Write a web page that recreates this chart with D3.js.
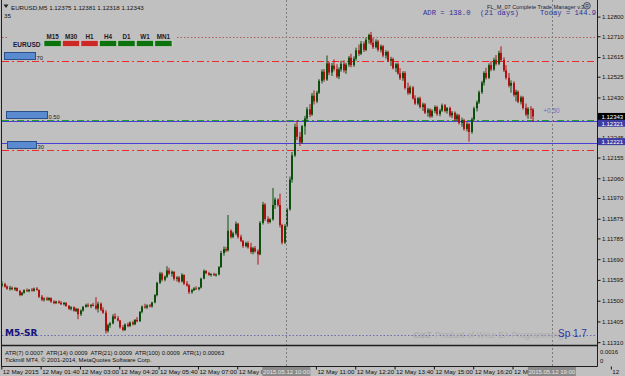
<!DOCTYPE html>
<html><head><meta charset="utf-8">
<script src="https://cdn.jsdelivr.net/npm/d3@7"></script>
<style>body{margin:0;background:#c0c0c0;overflow:hidden}svg{display:block}</style>
</head><body><svg id="c" width="625" height="376"></svg>
<script>
// ---------------- DATA ----------------
const symbolName = "EURUSD,M5";
const headerOHLC = ["1.12375","1.12381","1.12318","1.12343"];
const headerSub = "35";
// M5 candles [open, high, low, close], 12 May 2015 from 00:20
const ohlc = [
[1.11570,1.11588,1.11562,1.11576],[1.11576,1.11582,1.11560,1.11564],[1.11564,1.11570,1.11550,1.11555],[1.11555,1.11568,1.11546,1.11559],
[1.11559,1.11565,1.11548,1.11552],[1.11552,1.11563,1.11545,1.11558],[1.11558,1.11561,1.11542,1.11545],[1.11545,1.11549,1.11520,1.11526],
[1.11526,1.11540,1.11522,1.11536],[1.11536,1.11552,1.11532,1.11548],[1.11548,1.11556,1.11540,1.11544],[1.11544,1.11553,1.11538,1.11550],
[1.11550,1.11558,1.11542,1.11546],[1.11546,1.11560,1.11541,1.11555],[1.11555,1.11562,1.11546,1.11549],[1.11549,1.11551,1.11512,1.11518],
[1.11518,1.11526,1.11498,1.11505],[1.11505,1.11515,1.11496,1.11510],[1.11510,1.11518,1.11500,1.11504],[1.11504,1.11516,1.11499,1.11512],
[1.11512,1.11515,1.11490,1.11496],[1.11496,1.11502,1.11484,1.11489],[1.11489,1.11500,1.11485,1.11496],[1.11496,1.11501,1.11486,1.11490],
[1.11490,1.11498,1.11480,1.11484],[1.11484,1.11494,1.11478,1.11490],[1.11490,1.11493,1.11472,1.11476],[1.11476,1.11480,1.11458,1.11463],
[1.11463,1.11475,1.11455,1.11470],[1.11470,1.11474,1.11450,1.11454],[1.11454,1.11468,1.11448,1.11462],[1.11462,1.11466,1.11415,1.11438],
[1.11438,1.11460,1.11430,1.11455],[1.11455,1.11475,1.11450,1.11472],[1.11472,1.11486,1.11468,1.11480],[1.11480,1.11488,1.11470,1.11475],
[1.11475,1.11484,1.11466,1.11481],[1.11481,1.11490,1.11474,1.11478],[1.11478,1.11516,1.11458,1.11464],[1.11464,1.11495,1.11446,1.11486],
[1.11486,1.11492,1.11452,1.11458],[1.11458,1.11470,1.11440,1.11445],[1.11445,1.11456,1.11350,1.11362],[1.11362,1.11395,1.11354,1.11388],
[1.11388,1.11402,1.11376,1.11396],[1.11396,1.11438,1.11392,1.11428],[1.11428,1.11442,1.11415,1.11419],[1.11419,1.11430,1.11405,1.11409],
[1.11409,1.11412,1.11372,1.11378],[1.11378,1.11388,1.11360,1.11366],[1.11366,1.11396,1.11362,1.11391],[1.11391,1.11400,1.11378,1.11384],
[1.11384,1.11405,1.11380,1.11400],[1.11400,1.11408,1.11387,1.11392],[1.11392,1.11416,1.11388,1.11412],[1.11412,1.11425,1.11401,1.11406],
[1.11406,1.11452,1.11403,1.11449],[1.11449,1.11478,1.11442,1.11473],[1.11473,1.11486,1.11464,1.11469],[1.11469,1.11483,1.11462,1.11478],
[1.11478,1.11485,1.11470,1.11474],[1.11474,1.11495,1.11468,1.11492],[1.11492,1.11530,1.11488,1.11526],[1.11526,1.11586,1.11520,1.11582],
[1.11582,1.11632,1.11576,1.11624],[1.11624,1.11630,1.11588,1.11596],[1.11596,1.11615,1.11589,1.11610],[1.11610,1.11658,1.11604,1.11638],
[1.11638,1.11650,1.11618,1.11624],[1.11624,1.11638,1.11610,1.11632],[1.11632,1.11635,1.11592,1.11600],[1.11600,1.11612,1.11588,1.11606],
[1.11606,1.11612,1.11582,1.11588],[1.11588,1.11626,1.11584,1.11618],[1.11618,1.11620,1.11572,1.11578],[1.11578,1.11590,1.11564,1.11570],
[1.11570,1.11576,1.11531,1.11539],[1.11539,1.11554,1.11532,1.11548],[1.11548,1.11562,1.11544,1.11556],[1.11556,1.11566,1.11550,1.11553],
[1.11553,1.11563,1.11547,1.11560],[1.11560,1.11605,1.11556,1.11601],[1.11601,1.11643,1.11598,1.11636],[1.11636,1.11640,1.11621,1.11626],
[1.11626,1.11632,1.11614,1.11619],[1.11619,1.11626,1.11610,1.11622],[1.11622,1.11628,1.11613,1.11617],[1.11617,1.11625,1.11610,1.11620],
[1.11620,1.11658,1.11616,1.11654],[1.11654,1.11728,1.11650,1.11718],[1.11718,1.11748,1.11706,1.11736],[1.11736,1.11746,1.11722,1.11730],
[1.11730,1.11892,1.11725,1.11820],[1.11820,1.11826,1.11784,1.11792],[1.11792,1.11816,1.11786,1.11808],[1.11808,1.11862,1.11800,1.11852],
[1.11852,1.11856,1.11784,1.11792],[1.11792,1.11802,1.11768,1.11774],[1.11774,1.11778,1.11742,1.11750],[1.11750,1.11770,1.11744,1.11764],
[1.11764,1.11772,1.11738,1.11744],[1.11744,1.11765,1.11715,1.11723],[1.11723,1.11746,1.11712,1.11740],[1.11740,1.11750,1.11720,1.11726],
[1.11726,1.11735,1.11665,1.11712],[1.11712,1.11864,1.11708,1.11856],[1.11856,1.11952,1.11848,1.11940],[1.11940,1.11946,1.11865,1.11874],
[1.11874,1.11886,1.11852,1.11860],[1.11860,1.11878,1.11854,1.11872],[1.11872,1.12016,1.11866,1.11938],[1.11938,1.11972,1.11920,1.11963],
[1.11963,1.11968,1.11930,1.11938],[1.11938,1.11990,1.11835,1.11846],[1.11846,1.11852,1.11758,1.11766],[1.11766,1.11850,1.11760,1.11842],
[1.11842,1.11925,1.11836,1.11918],[1.11918,1.12068,1.11912,1.12054],[1.12054,1.12180,1.12040,1.12165],[1.12165,1.12310,1.12158,1.12296],
[1.12296,1.12325,1.12235,1.12250],[1.12250,1.12272,1.12208,1.12224],[1.12224,1.12304,1.12218,1.12298],[1.12298,1.12346,1.12260,1.12334],
[1.12334,1.12386,1.12318,1.12376],[1.12376,1.12400,1.12340,1.12352],[1.12352,1.12450,1.12346,1.12438],[1.12438,1.12462,1.12398,1.12412],
[1.12412,1.12460,1.12404,1.12452],[1.12452,1.12514,1.12446,1.12506],[1.12506,1.12558,1.12494,1.12548],[1.12548,1.12560,1.12502,1.12512],
[1.12512,1.12622,1.12506,1.12586],[1.12586,1.12594,1.12532,1.12544],[1.12544,1.12588,1.12528,1.12576],[1.12576,1.12604,1.12550,1.12560],
[1.12560,1.12582,1.12518,1.12526],[1.12526,1.12568,1.12514,1.12558],[1.12558,1.12598,1.12548,1.12584],[1.12584,1.12600,1.12544,1.12554],
[1.12554,1.12588,1.12538,1.12580],[1.12580,1.12620,1.12570,1.12612],[1.12612,1.12630,1.12568,1.12578],[1.12578,1.12618,1.12570,1.12608],
[1.12608,1.12658,1.12598,1.12646],[1.12646,1.12672,1.12620,1.12630],[1.12630,1.12688,1.12624,1.12676],[1.12676,1.12686,1.12638,1.12648],
[1.12648,1.12704,1.12642,1.12694],[1.12694,1.12722,1.12676,1.12716],[1.12716,1.12730,1.12670,1.12680],[1.12680,1.12702,1.12652,1.12660],
[1.12660,1.12696,1.12654,1.12686],[1.12686,1.12694,1.12640,1.12648],[1.12648,1.12672,1.12636,1.12664],[1.12664,1.12670,1.12614,1.12622],
[1.12622,1.12646,1.12608,1.12638],[1.12638,1.12644,1.12592,1.12598],[1.12598,1.12616,1.12574,1.12606],[1.12606,1.12612,1.12558,1.12564],
[1.12564,1.12588,1.12546,1.12582],[1.12582,1.12590,1.12534,1.12540],[1.12540,1.12564,1.12510,1.12518],[1.12518,1.12550,1.12506,1.12542],
[1.12542,1.12550,1.12466,1.12474],[1.12474,1.12498,1.12442,1.12450],[1.12450,1.12484,1.12444,1.12476],[1.12476,1.12482,1.12420,1.12426],
[1.12426,1.12440,1.12396,1.12402],[1.12402,1.12432,1.12394,1.12426],[1.12426,1.12434,1.12380,1.12386],[1.12386,1.12406,1.12368,1.12398],
[1.12398,1.12404,1.12354,1.12360],[1.12360,1.12382,1.12342,1.12374],[1.12374,1.12380,1.12336,1.12344],[1.12344,1.12376,1.12338,1.12368],
[1.12368,1.12394,1.12358,1.12386],[1.12386,1.12392,1.12346,1.12354],[1.12354,1.12378,1.12344,1.12370],[1.12370,1.12402,1.12364,1.12394],
[1.12394,1.12400,1.12362,1.12368],[1.12368,1.12386,1.12356,1.12382],[1.12382,1.12388,1.12340,1.12348],[1.12348,1.12368,1.12336,1.12360],
[1.12360,1.12366,1.12322,1.12330],[1.12330,1.12356,1.12324,1.12348],[1.12348,1.12354,1.12306,1.12314],[1.12314,1.12338,1.12296,1.12326],
[1.12326,1.12332,1.12278,1.12286],[1.12286,1.12318,1.12274,1.12308],[1.12308,1.12314,1.12228,1.12272],[1.12272,1.12338,1.12264,1.12330],
[1.12330,1.12388,1.12324,1.12380],[1.12380,1.12416,1.12366,1.12408],[1.12408,1.12462,1.12400,1.12454],[1.12454,1.12506,1.12446,1.12498],
[1.12498,1.12550,1.12484,1.12542],[1.12542,1.12566,1.12512,1.12520],[1.12520,1.12586,1.12514,1.12578],[1.12578,1.12596,1.12550,1.12558],
[1.12558,1.12612,1.12552,1.12602],[1.12602,1.12624,1.12576,1.12584],[1.12584,1.12644,1.12578,1.12634],[1.12634,1.12664,1.12594,1.12602],
[1.12602,1.12614,1.12546,1.12554],[1.12554,1.12578,1.12512,1.12520],[1.12520,1.12542,1.12476,1.12484],[1.12484,1.12508,1.12452,1.12496],
[1.12496,1.12504,1.12434,1.12442],[1.12442,1.12466,1.12412,1.12456],[1.12456,1.12462,1.12404,1.12410],[1.12410,1.12438,1.12398,1.12430],
[1.12430,1.12436,1.12374,1.12382],[1.12382,1.12402,1.12344,1.12352],[1.12352,1.12386,1.12332,1.12378],[1.12378,1.12390,1.12332,1.12374],
[1.12375,1.12381,1.12318,1.12343]
];
const priceTicks = [1.12800,1.12710,1.12615,1.12525,1.12430,1.12245,1.12155,1.12060,1.11970,1.11875,1.11785,1.11690,1.11595,1.11500,1.11405,1.11310];
const timeTickBars = [0,16,32,48,64,80,96,128,144,160,176,192,208,248];
const timeTickText = ["12 May 2015","12 May 01:40","12 May 03:00","12 May 04:20","12 May 05:40","12 May 07:00","12 May 08:20","12 May 11:00","12 May 12:20","12 May 13:40","12 May 15:00","12 May 16:20","12 May 17:40","12"];
const markerBars = [116,224];
const markerText = ["2015.05.12 10:00","2015.05.12 19:00"];
const srHigh = 1.12708, srLow = 1.11341;
const zoneLevels = [1.12598,1.12329,1.12189];
const zoneLabels = ["70","0.50","30"];
const tradeLines = [1.12321,1.12221];
const closePrice = 1.12343;
const tfNames = ["M15","M30","H1","H4","D1","W1","MN1"];
const tfTrend = ["up","down","down","up","up","up","up"];
const adrText = ["ADR = 138.0","(21 days)","Today = 144.9"];
const atrText = "ATR(7) 0.0007  ATR(14) 0.0009  ATR(21) 0.0009  ATR(100) 0.0009  ATR(1) 0.00063";
const brokerText = "Tickmill MT4, \u00a9 2001-2014, MetaQuotes Software Corp.";
const subTicks = ["0.0016","0"];
const spreadText = "Sp 1.7";

// ---------------- DRAW ----------------
const W=625,H=376;
const FONT="'Liberation Sans', Arial, sans-serif";
const svg=d3.select("#c");
const x=d3.scaleLinear().domain([0,242]).range([1.3,596.1]);
const y=d3.scaleLinear().domain([1.11310,1.12800]).range([342.2,16.6]);

svg.append("rect").attr("width",W).attr("height",H).attr("fill","#c0c0c0");
svg.append("clipPath").attr("id","plot").append("rect").attr("x",2).attr("y",0).attr("width",595.5).attr("height",345);
const g=svg.append("g").attr("clip-path","url(#plot)");

// vertical markers
markerBars.forEach(b=>{
  svg.append("line").attr("x1",Math.round(x(b))+0.5).attr("x2",Math.round(x(b))+0.5).attr("y1",0).attr("y2",366)
    .attr("stroke","#7c7c7c").attr("stroke-dasharray","2,2");
});

// horizontal levels
function hline(p,color,dash,w){
  const l=g.append("line").attr("x1",2).attr("x2",597).attr("y1",Math.round(y(p))+0.5).attr("y2",Math.round(y(p))+0.5)
   .attr("stroke",color).attr("stroke-width",w||1);
  if(dash) l.attr("stroke-dasharray",dash);
}
hline(srHigh,"#ad5c5c","1.5,2");
hline(srLow,"#6a6ab0","1.5,2");
hline(zoneLevels[0],"#ee2a2a","7,3,2,3");
hline(zoneLevels[1],"#22a022","7,3,2,3");
hline(zoneLevels[2],"#ee2a2a","7,3,2,3");
tradeLines.forEach(p=>hline(p,"#4b3fd6",null,1.2));

// candles
const bull="#0c4f0c", bear="#b01010";
const cg=g.append("g");
ohlc.forEach((d,i)=>{
  const [o,h,l,c]=d;
  const cx=Math.round(x(i));
  const col=c>=o?bull:bear;
  cg.append("line").attr("x1",cx+1).attr("x2",cx+1).attr("y1",y(h)).attr("y2",y(l)).attr("stroke",col).attr("stroke-width",1);
  const top=y(Math.max(o,c)), bot=y(Math.min(o,c));
  cg.append("rect").attr("x",cx).attr("y",top).attr("width",2).attr("height",Math.max(1,bot-top)).attr("fill",col);
});

// zone boxes
const boxLeft=[4,6,7], boxW=[31,41,29];
zoneLevels.forEach((p,i)=>{
  const yy=Math.round(y(p));
  g.append("rect").attr("x",boxLeft[i]+0.5).attr("y",yy-8.5).attr("width",boxW[i]).attr("height",7)
    .attr("fill","#5a8ad0").attr("stroke","#2c5088").attr("stroke-width",1);
  g.append("text").attr("x",boxLeft[i]+boxW[i]+1.5).attr("y",yy-1.5).text(zoneLabels[i])
    .attr("font-family",FONT).attr("font-size",5.8).attr("fill","#222");
});
g.append("text").attr("x",x(220.5)).attr("y",y(zoneLevels[1])-7).text("+0.50")
  .attr("font-family",FONT).attr("font-size",6.5).attr("fill","#7070c0");

// timeframe panel
svg.append("rect").attr("x",8).attr("y",31).attr("width",168).attr("height",18).attr("fill","#c0c0c0");
const tf=d3.scaleBand().domain(tfNames).range([44,172]).paddingInner(0.07);
tfNames.forEach((n,i)=>{
  svg.append("rect").attr("x",tf(n)).attr("y",40.5).attr("width",tf.bandwidth()).attr("height",6)
    .attr("fill",tfTrend[i]==="up"?"#0c720c":"#cc2828").attr("stroke","#d9d9d9").attr("stroke-width",0.6);
  svg.append("text").attr("x",tf(n)+tf.bandwidth()/2).attr("y",39).attr("text-anchor","middle").text(n)
    .attr("font-family",FONT).attr("font-size",6.3).attr("font-weight","bold").attr("fill","#1a1a2a");
});
svg.append("text").attr("x",13).attr("y",47).text("EURUSD").attr("font-family",FONT).attr("font-size",6.5)
  .attr("font-weight","bold").attr("fill","#1a1a3a");

// header
svg.append("path").attr("d","M3.5,4.5 L8.5,4.5 L6,8 Z").attr("fill","#222");
svg.append("text").attr("x",11).attr("y",9.5).text(symbolName+"  "+headerOHLC.join(" "))
  .attr("font-family",FONT).attr("font-size",6.2).attr("fill","#111");
svg.append("text").attr("x",4).attr("y",18).text(headerSub).attr("font-family",FONT).attr("font-size",6.2).attr("fill","#111");

// top right texts
const adrX=[423,480,540];
adrText.forEach((t,i)=>svg.append("text").attr("x",adrX[i]).attr("y",14.5).text(t)
  .attr("font-family","'Liberation Mono', 'Courier New', monospace").attr("font-size",7.2).attr("fill","#30309a"));
svg.append("text").attr("x",487).attr("y",8.5).text("FL_M_07 Complete Trade Manager v.3")
  .attr("font-family",FONT).attr("font-size",5.6).attr("fill","#20203a");
svg.append("circle").attr("cx",587).attr("cy",5.8).attr("r",3.3).attr("fill","none").attr("stroke","#20203a").attr("stroke-width",0.7);
svg.append("text").attr("x",587).attr("y",7.8).attr("text-anchor","middle").text("R").attr("font-family",FONT)
  .attr("font-size",5).attr("fill","#20203a");

// bottom-left / right labels in main window
svg.append("text").attr("x",5).attr("y",336).text("M5-SR").attr("font-family","'DejaVu Sans', sans-serif")
  .attr("font-size",9).attr("font-weight","bold").attr("fill","#12127a");
svg.append("text").attr("x",413).attr("y",338).text("C\u03c3Z").attr("font-family",FONT).attr("font-size",9)
  .attr("font-style","italic").attr("font-weight","bold").attr("fill","#ababab");
svg.append("text").attr("x",435).attr("y",338).text("Product of Wise EA Programming").attr("font-family",FONT)
  .attr("font-size",8.6).attr("fill","#ababab");
svg.append("text").attr("x",558).attr("y",337).text(spreadText).attr("font-family",FONT)
  .attr("font-size",10).attr("fill","#3434a2");

// frame lines
svg.append("line").attr("x1",1.5).attr("x2",1.5).attr("y1",0).attr("y2",366.5).attr("stroke","#1e1e1e");
svg.append("line").attr("x1",597.5).attr("x2",597.5).attr("y1",0).attr("y2",366.5).attr("stroke","#1e1e1e");
svg.append("line").attr("x1",1.5).attr("x2",597.5).attr("y1",345.5).attr("y2",345.5).attr("stroke","#1e1e1e").attr("stroke-width",1.6);
svg.append("line").attr("x1",1.5).attr("x2",597.5).attr("y1",366.5).attr("y2",366.5).attr("stroke","#1e1e1e");

// sub window texts
svg.append("text").attr("x",5).attr("y",355).text(atrText).attr("font-family",FONT).attr("font-size",5.9).attr("fill","#111").style("white-space","pre");
svg.append("text").attr("x",5).attr("y",362).text(brokerText).attr("font-family",FONT).attr("font-size",5.9).attr("fill","#111");
svg.append("text").attr("x",600).attr("y",353.5).text(subTicks[0]).attr("font-family",FONT).attr("font-size",5.9).attr("fill","#111");
svg.append("text").attr("x",600).attr("y",363).text(subTicks[1]).attr("font-family",FONT).attr("font-size",5.9).attr("fill","#111");

// price axis
const ya=svg.append("g").attr("transform","translate(597.5,0)")
  .call(d3.axisRight(y).tickValues(priceTicks).tickSize(3).tickFormat(d3.format(".5f")));
ya.select(".domain").remove();
ya.selectAll("line").attr("stroke","#111");
ya.selectAll("text").attr("font-family",FONT).attr("font-size",6).attr("fill","#111").attr("x",4.5);

// highlighted price labels
function plabel(p,bg,dy){
  const yy=y(p)+dy;
  svg.append("rect").attr("x",598).attr("y",yy-3.5).attr("width",27).attr("height",7).attr("fill",bg);
  svg.append("text").attr("x",601.5).attr("y",yy+2.3).text(d3.format(".5f")(p)).attr("font-family",FONT)
    .attr("font-size",6).attr("fill","#fff");
}
plabel(closePrice,"#000",0);
plabel(tradeLines[0],"#3c3ca2",2);
plabel(tradeLines[1],"#3c3ca2",-1.5);

// time axis
const xa=svg.append("g").attr("transform","translate(0,366.5)")
  .call(d3.axisBottom(x).tickValues(timeTickBars).tickSize(3).tickFormat((d,i)=>timeTickText[i]));
xa.select(".domain").remove();
xa.selectAll("line").attr("stroke","#111");
xa.selectAll("text").attr("font-family",FONT).attr("font-size",6.2).attr("fill","#111")
  .attr("text-anchor","start").attr("x",1).attr("y",3).attr("dy","0.71em");
markerBars.forEach((b,i)=>{
  const cx=x(b);
  svg.append("rect").attr("x",cx-24).attr("y",367).attr("width",48).attr("height",9).attr("fill","#8a8a8a");
  svg.append("text").attr("x",cx).attr("y",374).attr("text-anchor","middle").text(markerText[i])
    .attr("font-family",FONT).attr("font-size",6).attr("fill","#e6e6e6");
});
</script>
</body></html>
